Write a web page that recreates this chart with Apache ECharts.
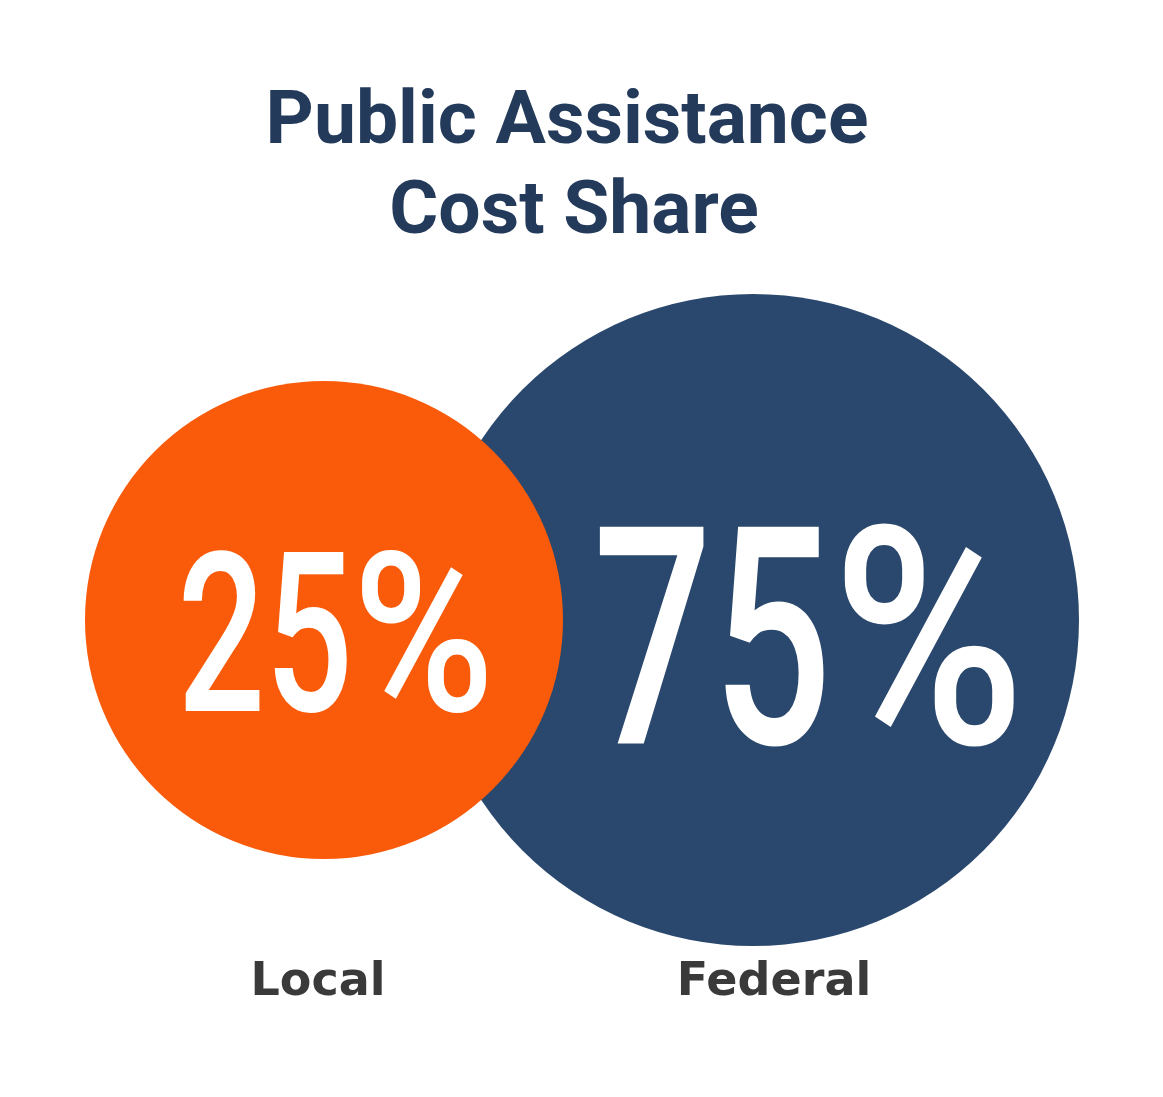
<!DOCTYPE html>
<html>
<head>
<meta charset="utf-8">
<script src="https://cdn.jsdelivr.net/npm/echarts@6/dist/echarts.min.js"></script>
<style>
html,body{margin:0;padding:0;background:#ffffff;}
#chart{width:1163px;height:1097px;}
</style>
</head>
<body>
<div id="chart"></div>
<script>
// ---- data ----
const categories = ['Local', 'Federal'];
const shares = [25, 75];
const shareLabels = ['25', '75'];
const titleLines = ['Public Assistance', 'Cost Share'];

// ---- styles ----
const circleColors = ['#f95b0a', '#2a486d'];
const titleColor = '#233a5a';
const labelColor = '#3a3a3a';

const measureCtx = document.createElement('canvas').getContext('2d');
function textWidth(str, font) {
  measureCtx.font = font;
  return measureCtx.measureText(str).width;
}

const chart = echarts.init(document.getElementById('chart'), null, {renderer: 'canvas'});

const titleRich = {fontFamily: 'Roboto', fontWeight: 'bold', fontSize: 75, lineHeight: 90, color: titleColor};

const option = {
  backgroundColor: '#ffffff',
  animation: false,
  title: {
    text: '{t0|' + titleLines[0] + '}\n{t1|' + titleLines[1] + '}',
    left: 562,
    textAlign: 'center',
    top: 74,
    textStyle: {
      fontFamily: 'Roboto',
      fontWeight: 'bold',
      fontSize: 75,
      lineHeight: 90,
      color: titleColor,
      rich: {
        t0: Object.assign({}, titleRich),
        t1: Object.assign({padding: [0, 0, 0, 14]}, titleRich)
      }
    }
  },
  grid: {left: 109.5, right: 195.5, top: 300, bottom: 157},
  xAxis: {
    type: 'category',
    data: categories,
    boundaryGap: true,
    axisLine: {show: false},
    axisTick: {show: false},
    splitLine: {show: false},
    axisLabel: {
      margin: 20,
      formatter: function (val, idx) { return '{l' + idx + '|' + val + '}'; },
      rich: {
        l0: {fontFamily: 'DejaVu Sans', fontWeight: 'bold', fontSize: 46, color: labelColor, padding: [0, 12, 0, 0]},
        l1: {fontFamily: 'DejaVu Sans', fontWeight: 'bold', fontSize: 46, color: labelColor, padding: [0, 0, 0, 42]}
      }
    }
  },
  yAxis: {
    type: 'value',
    min: -1,
    max: 1,
    show: false
  },
  series: [{
    type: 'custom',
    data: categories.map((c, i) => [i, 0, shares[i]]),
    renderItem: function (params, api) {
      const i = api.value(0);
      const v = api.value(2);
      const c = api.coord([i, api.value(1)]);
      const r = 195.5 + 1.74 * v;
      const cap = 0.665 * r;
      const fs = cap / 0.711;
      const font = '500 ' + fs + 'px Roboto';
      const sN = 0.69, sP = 0.86;
      const numStr = shareLabels[i];
      const wN = textWidth(numStr, font) * sN;
      const wP = textWidth('%', font) * sP;
      const total = wN + wP;
      const startX = c[0] + (-109 + 0.506 * r) - total / 2;
      const ty = c[1] + 0.145 * r;
      const txtStyle = {
        fontFamily: 'Roboto',
        fontWeight: 500,
        fontSize: fs,
        fill: '#ffffff',
        align: 'left',
        verticalAlign: 'middle'
      };
      return {
        type: 'group',
        children: [
          {
            type: 'circle',
            shape: {cx: c[0], cy: c[1], r: r},
            style: {fill: circleColors[i]},
            z2: i === 0 ? 10 : 0
          },
          {
            type: 'text',
            x: startX,
            y: ty,
            scaleX: sN,
            style: Object.assign({text: numStr}, txtStyle),
            z2: 20
          },
          {
            type: 'text',
            x: startX + wN,
            y: ty,
            scaleX: sP,
            style: Object.assign({text: '%'}, txtStyle),
            z2: 20
          }
        ]
      };
    }
  }]
};

chart.setOption(option);
</script>
</body>
</html>
